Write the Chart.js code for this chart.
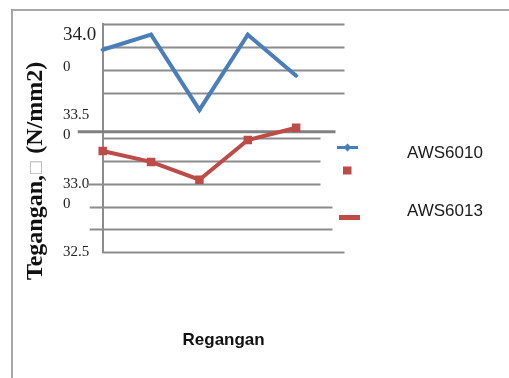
<!DOCTYPE html>
<html>
<head>
<meta charset="utf-8">
<script src="https://cdn.jsdelivr.net/npm/chart.js@4.4.1/dist/chart.umd.min.js"></script>
<style>
  html, body { margin: 0; padding: 0; background: #fff; }
  #wrap { position: relative; width: 509px; height: 378px; overflow: hidden; }
  #frame { position: absolute; left: 11px; top: 9px; width: 520px; height: 400px;
           border-left: 2px solid #a6a6a6; border-top: 2px solid #a6a6a6; }
  canvas { position: absolute; left: 0; top: 0; }
</style>
</head>
<body>
<div id="wrap">
  <div id="frame"></div>
  <canvas id="c" width="509" height="378"></canvas>
</div>
<script>
// Test points along the strain axis (not labelled on the chart)
const categories = ['1', '2', '3', '4', '5', '6'];
// Stress values for each electrode type
const aws6010 = [33.98, 34.09, 33.54, 34.09, 33.79];
const aws6013 = [33.24, 33.16, 33.03, 33.32, 33.41];
const seriesNames = ['AWS6010', 'AWS6013'];
// Labelled stress ticks (N/mm2)
const yTickValues = [32.5, 33.0, 33.5, 34.0];
const yAxisTitle = ['Tegangan,', '\u25A1', ' (N/mm2)'];
const xAxisTitle = 'Regangan';

const BLUE = '#4a7ebb';
const RED = '#be4b48';
const Y_MIN = 32.5, Y_MAX = 205 / 6;

function labelFor(value) {
  const v = yTickValues.find(t => Math.abs(t - value) < 1e-6);
  return v === undefined ? null : v;
}

// Horizontal rules drawn per tick: [left extension, right inset]
const ruleShape = [
  [0, 0], [-13, -12], [-13, -12], [-16, -24], [0, -24], [0, -24],
  null, [0, 0], [0, 0], [0, 0], [0, 0]
];

const gridPlugin = {
  id: 'rules',
  beforeDatasetsDraw(chart) {
    const ctx = chart.ctx, y = chart.scales.y, a = chart.chartArea;
    ctx.save();
    ctx.strokeStyle = '#8c8c8c';
    ctx.lineWidth = 1.8;
    y.ticks.forEach((t, i) => {
      const s = ruleShape[i];
      if (!s) return;
      const py = Math.round(y.getPixelForValue(t.value)) + 0.5;
      ctx.beginPath();
      ctx.moveTo(a.left + s[0], py);
      ctx.lineTo(a.right + s[1], py);
      ctx.stroke();
    });
    // heavier rule under the 33.5 division
    const hy = y.getPixelForValue(33.38);
    ctx.strokeStyle = '#808080';
    ctx.lineWidth = 3;
    ctx.beginPath();
    ctx.moveTo(a.left - 25, hy);
    ctx.lineTo(a.right - 9, hy);
    ctx.stroke();
    ctx.restore();
  },
  afterDraw(chart) {
    const ctx = chart.ctx;
    ctx.save();
    // vertical axis title
    ctx.translate(36, 171);
    ctx.rotate(-Math.PI / 2);
    ctx.textBaseline = 'middle';
    const fonts = ['bold 24px "Liberation Serif"', '16px "DejaVu Sans"', 'bold 24px "Liberation Serif"'];
    const widths = yAxisTitle.map((p, i) => { ctx.font = fonts[i]; return ctx.measureText(p).width; });
    let x = -widths.reduce((s, w) => s + w, 0) / 2;
    yAxisTitle.forEach((p, i) => {
      ctx.fillStyle = i === 1 ? '#b8b8b8' : '#111';
      ctx.font = fonts[i];
      ctx.fillText(p, x, 0);
      x += widths[i];
    });
    ctx.restore();

    // legend
    ctx.save();
    ctx.strokeStyle = BLUE;
    ctx.lineWidth = 3;
    ctx.beginPath(); ctx.moveTo(337, 147.5); ctx.lineTo(358, 147.5); ctx.stroke();
    ctx.fillStyle = BLUE;
    ctx.beginPath();
    ctx.moveTo(347.5, 143.5); ctx.lineTo(351.5, 147.5); ctx.lineTo(347.5, 151.5); ctx.lineTo(343.5, 147.5);
    ctx.closePath(); ctx.fill();
    ctx.fillStyle = RED;
    ctx.fillRect(343, 166.5, 8.5, 8);
    ctx.strokeStyle = RED;
    ctx.lineWidth = 5;
    ctx.beginPath(); ctx.moveTo(339, 217.5); ctx.lineTo(360, 217.5); ctx.stroke();
    ctx.fillStyle = '#1a1a1a';
    ctx.font = '17px "Liberation Sans"';
    ctx.textBaseline = 'middle';
    ctx.fillText(seriesNames[0], 407, 153);
    ctx.fillText(seriesNames[1], 407, 211);
    ctx.restore();
  }
};

new Chart(document.getElementById('c'), {
  type: 'line',
  data: {
    labels: categories,
    datasets: [
      { label: seriesNames[0], data: aws6010, borderColor: BLUE, backgroundColor: BLUE,
        borderWidth: 4, tension: 0, pointStyle: 'rectRot', pointRadius: 2.5, pointBorderWidth: 0 },
      { label: seriesNames[1], data: aws6013, borderColor: RED, backgroundColor: RED,
        borderWidth: 4, tension: 0, pointStyle: 'rect', pointRadius: 6, pointBorderWidth: 0 }
    ]
  },
  options: {
    responsive: false,
    animation: false,
    devicePixelRatio: 1,
    layout: { padding: { left: 62, right: 164.5, top: 24.2, bottom: 0 } },
    plugins: { legend: { display: false }, tooltip: { enabled: false } },
    scales: {
      x: {
        offset: false,
        grid: { display: false, drawTicks: false },
        border: { display: false },
        ticks: { display: false },
        title: { display: true, text: xAxisTitle, color: '#111',
                 font: { family: 'Liberation Sans', size: 17, weight: 'bold' },
                 padding: { top: 78, bottom: 27.4 } }
      },
      y: {
        type: 'linear',
        position: 'left',
        min: Y_MIN, max: Y_MAX,
        grid: { display: false, drawTicks: false },
        border: { display: true, color: '#8c8c8c', width: 2 },
        ticks: {
          count: 11, autoSkip: false, crossAlign: 'far', padding: 0, color: '#222',
          font: (c) => ({ family: 'Liberation Serif',
                          size: (c.tick && Math.abs(c.tick.value - 34) < 1e-6) ? 19 : 15,
                          lineHeight: 1.25 }),
          callback: (v) => {
            const t = labelFor(v);
            if (t === null) return '';
            return t === 34 ? [t.toFixed(1), ''] : t.toFixed(1);
          }
        },
        afterFit: (s) => { s.width = 39.7; s.paddingTop = 0; s.paddingBottom = 0; }
      },
      y2: {
        type: 'linear',
        display: true,
        position: 'left',
        weight: 1,
        min: Y_MIN, max: Y_MAX,
        grid: { display: false, drawTicks: false },
        border: { display: false },
        ticks: {
          count: 11, autoSkip: false, mirror: true, crossAlign: 'near', padding: 0, color: '#222',
          labelOffset: 20,
          font: { family: 'Liberation Serif', size: 15 },
          callback: (v) => {
            const t = labelFor(v);
            return (t === null || t === 32.5) ? '' : '0';
          }
        },
        afterFit: (s) => { s.width = 1; s.paddingTop = 0; s.paddingBottom = 0; }
      }
    }
  },
  plugins: [gridPlugin]
});
</script>
</body>
</html>
